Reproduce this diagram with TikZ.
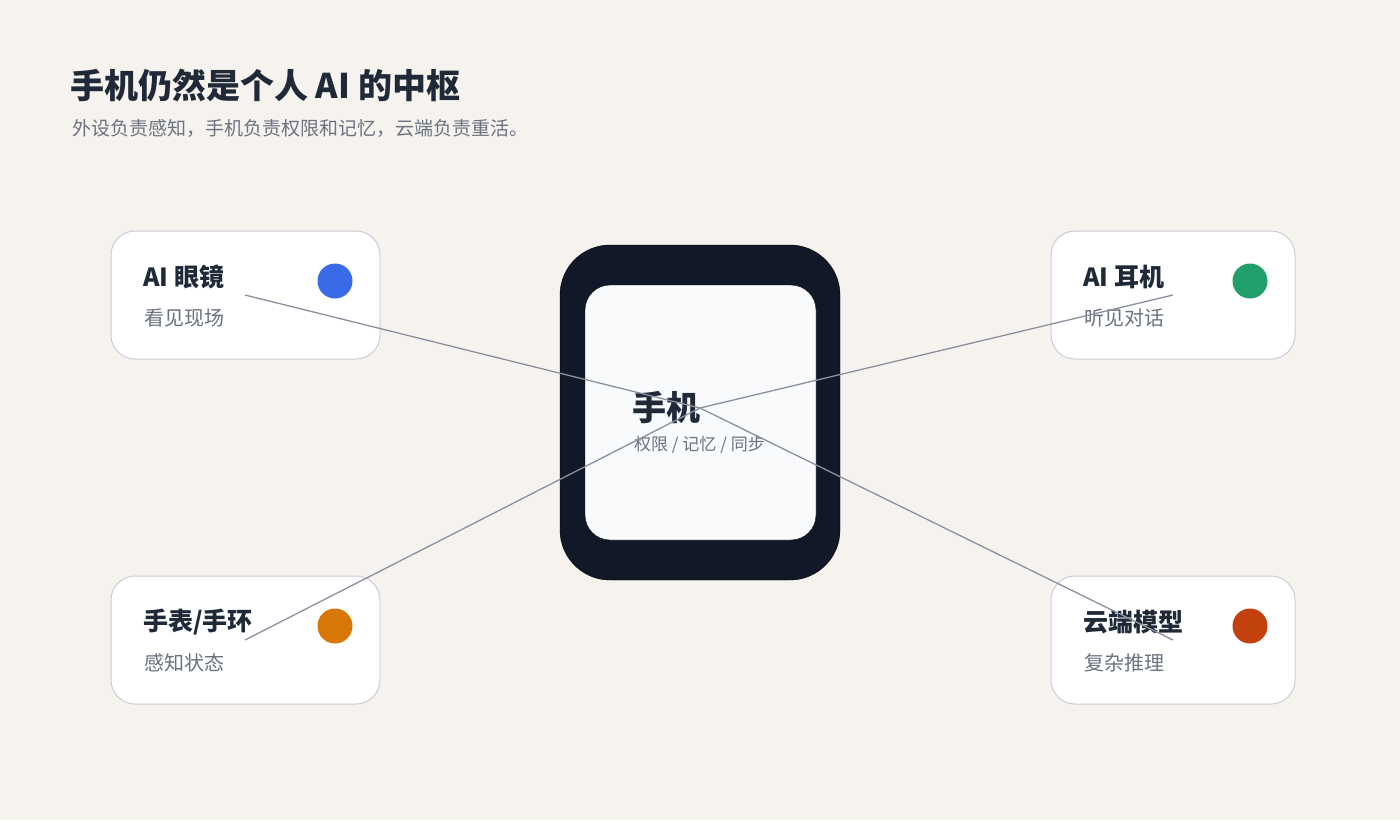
\documentclass[tikz,border=0pt]{standalone}
\usepackage{fontspec}
\setmainfont{Noto Sans CJK SC}
\definecolor{bg}{HTML}{F6F3EE}
\definecolor{ink}{HTML}{1F2937}
\definecolor{mute}{HTML}{6B7280}
\definecolor{bord}{HTML}{C9CED6}
\definecolor{phone}{HTML}{111827}
\definecolor{screen}{HTML}{F8FAFC}
\definecolor{wire}{HTML}{8A90A0}
\definecolor{cblue}{HTML}{3B6AE8}
\definecolor{cgreen}{HTML}{22A06B}
\definecolor{corange}{HTML}{D97706}
\definecolor{cred}{HTML}{C2410C}
\begin{document}
\begin{tikzpicture}[x=1pt,y=-1pt,
  card/.style={draw=bord,line width=1pt,fill=white,rounded corners=24pt},
  ttl/.style={anchor=west,text=ink,font=\bfseries\fontsize{25}{28}\selectfont,inner sep=0},
  sub/.style={anchor=west,text=mute,font=\fontsize{20}{24}\selectfont,inner sep=0},
  dot/.style={circle,minimum size=35pt,inner sep=0},
  wireline/.style={draw=wire,line width=1.3pt}]
\useasboundingbox[fill=bg] (0,0) rectangle (1400,820);
\node[anchor=west,text=ink,font=\bfseries\fontsize{34}{40}\selectfont,inner sep=0] (title) at (70,85) {手机仍然是个人 AI 的中枢};
\node[anchor=west,text=mute,font=\fontsize{19}{24}\selectfont,inner sep=0] (subtitle) at (72,129) {外设负责感知，手机负责权限和记忆，云端负责重活。};
% cards
\draw[card] (111,231) rectangle (380,359);
\draw[card] (1051,231) rectangle (1295,359);
\draw[card] (111,576) rectangle (380,704);
\draw[card] (1051,576) rectangle (1295,704);
\node[dot,fill=cblue] (d1) at (335,281) {};
\node[dot,fill=cgreen] (d2) at (1250,281) {};
\node[dot,fill=corange] (d3) at (335,626) {};
\node[dot,fill=cred] (d4) at (1250,626) {};
\node[ttl] (t1) at (143,277) {AI 眼镜};
\node[sub] (s1) at (144,318) {看见现场};
\node[ttl] (t2) at (1083,277) {AI 耳机};
\node[sub] (s2) at (1084,318) {听见对话};
\node[ttl] (t3) at (143,622) {手表/手环};
\node[sub] (s3) at (144,663) {感知状态};
\node[ttl] (t4) at (1083,622) {云端模型};
\node[sub] (s4) at (1084,663) {复杂推理};
% phone
\draw[fill=phone,rounded corners=50pt] (560,245) rectangle (840,580);
\draw[fill=screen,rounded corners=25pt] (585,285) rectangle (816,540);
\node[anchor=west,text=ink,font=\bfseries\fontsize{34}{40}\selectfont,inner sep=0] (pt) at (632,408) {手机};
\node[anchor=west,text=mute,font=\fontsize{17}{20}\selectfont,inner sep=0] (ps) at (634,445) {权限 / 记忆 / 同步};
% wires
\coordinate (hub) at (700,408);
\coordinate (e1) at (245,295);
\coordinate (e2) at (1173,295);
\coordinate (e3) at (245,640);
\coordinate (e4) at (1173,640);
\path[wireline] (e1) -- (hub) -- (e4);
\path[wireline] (e2) -- (hub) -- (e3);
\end{tikzpicture}
\end{document}
